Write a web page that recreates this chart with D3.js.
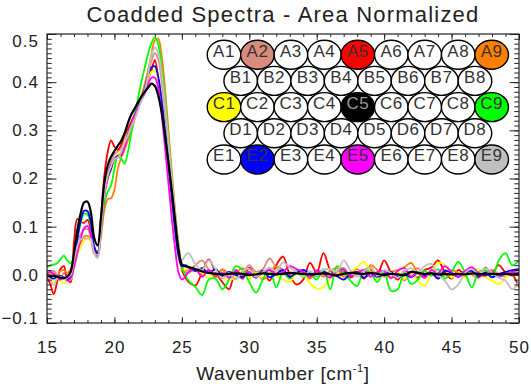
<!DOCTYPE html>
<html>
<head>
<meta charset="utf-8">
<script src="https://cdn.jsdelivr.net/npm/d3@7"></script>
<style>
  body { margin: 0; background: #fff; }
  svg { display: block; font-family: "Liberation Sans", Arial, Helvetica, sans-serif; }
</style>
</head>
<body>
<svg id="chart" width="531" height="386"></svg>
<script>
// wavenumber grid (cm-1): fine over the band, coarser over the flat part
const wavenumbers = [
  15, 15.25, 15.5, 15.75, 16, 16.25, 16.5, 16.75, 17, 17.25, 17.5, 17.75, 18, 18.25, 18.5, 18.75,
  19, 19.25, 19.5, 19.75, 20, 20.25, 20.5, 20.75, 21, 21.25, 21.5, 21.75, 22, 22.25, 22.5, 22.75,
  23, 23.25, 23.5, 23.75, 24, 24.25, 24.5, 24.75, 25, 25.25, 25.5,
  26, 26.5, 27, 27.5, 28, 28.5, 29, 29.5, 30, 30.5, 31, 31.5, 32, 32.5, 33, 33.5, 34, 34.5,
  35, 35.5, 36, 36.5, 37, 37.5, 38, 38.5, 39, 39.5, 40, 40.5, 41, 41.5, 42, 42.5, 43, 43.5,
  44, 44.5, 45, 45.5, 46, 46.5, 47, 47.5, 48, 48.5, 49, 49.5, 50
];

const specA2 = [
  -0.008, 0.002, 0.008, 0.000, -0.006, 0.004, -0.002, 0.008, 0.040, 0.069, 0.084, 0.094, 0.095, 0.079, 0.045, 0.040,
  0.099, 0.172, 0.211, 0.235, 0.250, 0.257, 0.262, 0.276, 0.294, 0.311, 0.333, 0.352, 0.370, 0.383, 0.411, 0.445,
  0.460, 0.448, 0.401, 0.338, 0.265, 0.187, 0.113, 0.050, 0.015, 0.008, 0.010,
  0.020, 0.030, 0.010, -0.004, 0.012, 0.002, -0.008, 0.004, 0.020, 0.006, 0.012, 0.034, 0.015, 0.004, -0.006, 0.008, 0.002, -0.006,
  0.010, 0.004, -0.004, 0.008, 0.014, -0.006, 0.002, 0.010, 0.016, -0.004, 0.006, -0.008, 0.004, -0.012, 0.006, 0.014, -0.004, 0.006,
  -0.004, 0.010, 0.004, -0.004, 0.008, 0.000, -0.006, 0.004, 0.010, 0.002, -0.004, 0.004, 0.002
];
const specA5 = [
  -0.005, -0.020, -0.040, -0.015, 0.012, 0.018, -0.010, -0.015, 0.069, 0.116, 0.110, 0.108, 0.114, 0.093, 0.054, 0.045,
  0.118, 0.206, 0.255, 0.279, 0.266, 0.260, 0.270, 0.289, 0.303, 0.318, 0.333, 0.352, 0.370, 0.386, 0.406, 0.425,
  0.446, 0.406, 0.352, 0.294, 0.230, 0.162, 0.093, 0.040, 0.010, -0.005, -0.015,
  -0.022, 0.005, 0.032, 0.005, -0.015, -0.030, 0.010, -0.008, 0.015, -0.005, 0.008, -0.012, 0.020, 0.038, 0.000, -0.020, -0.010, 0.025,
  0.005, 0.045, 0.010, -0.002, 0.008, -0.005, 0.004, -0.008, 0.010, 0.002, 0.030, 0.005, -0.010, 0.008, 0.002, -0.006, 0.010, 0.015,
  0.030, 0.005, -0.008, 0.010, 0.002, 0.012, -0.005, 0.015, 0.004, 0.020, 0.005, 0.000, -0.026
];
const specA9 = [
  0.005, 0.000, 0.003, -0.005, 0.008, 0.010, 0.004, 0.012, 0.030, 0.050, 0.067, 0.079, 0.081, 0.074, 0.048, 0.040,
  0.079, 0.133, 0.157, 0.159, 0.177, 0.220, 0.243, 0.260, 0.279, 0.298, 0.323, 0.347, 0.372, 0.396, 0.425, 0.459,
  0.487, 0.490, 0.455, 0.386, 0.303, 0.216, 0.133, 0.064, 0.020, 0.005, 0.004,
  0.012, 0.002, 0.008, -0.005, 0.010, -0.006, 0.004, 0.014, -0.002, 0.006, -0.010, 0.004, 0.018, 0.010, -0.004, 0.008, 0.002, -0.008,
  0.006, -0.004, 0.008, 0.014, -0.004, 0.004, 0.012, 0.000, 0.020, 0.010, -0.004, 0.006, 0.010, 0.016, 0.025, 0.004, -0.006, 0.008,
  0.002, -0.002, 0.010, 0.004, -0.004, 0.008, 0.002, -0.003, 0.006, 0.001, 0.004, -0.002, 0.003
];
const specC1 = [
  0.003, -0.008, -0.015, -0.008, -0.012, -0.018, -0.012, -0.010, 0.012, 0.040, 0.059, 0.071, 0.077, 0.069, 0.045, 0.040,
  0.094, 0.162, 0.196, 0.216, 0.235, 0.250, 0.257, 0.274, 0.294, 0.311, 0.328, 0.347, 0.364, 0.383, 0.409, 0.421,
  0.423, 0.406, 0.357, 0.294, 0.225, 0.157, 0.089, 0.035, 0.012, 0.010, 0.014,
  0.010, 0.004, -0.006, 0.008, -0.004, -0.012, -0.004, 0.006, -0.008, 0.004, -0.006, 0.006, -0.002, -0.010, -0.015, 0.004, 0.002, -0.018,
  -0.028, -0.026, -0.008, 0.004, -0.010, 0.006, 0.016, 0.027, 0.005, -0.010, 0.004, -0.004, 0.006, -0.008, 0.002, -0.012, -0.023, 0.005,
  0.025, 0.020, -0.006, 0.004, -0.006, 0.008, 0.012, -0.004, -0.012, -0.019, -0.006, 0.008, 0.004
];
const specC5 = [
  -0.002, -0.003, -0.002, -0.004, -0.006, -0.007, -0.004, 0.006, 0.045, 0.093, 0.128, 0.150, 0.152, 0.130, 0.077, 0.061,
  0.118, 0.191, 0.227, 0.245, 0.257, 0.268, 0.278, 0.294, 0.315, 0.333, 0.345, 0.358, 0.370, 0.380, 0.389, 0.397,
  0.392, 0.372, 0.338, 0.289, 0.235, 0.176, 0.113, 0.054, 0.022, 0.018, 0.016,
  0.012, 0.007, 0.004, 0.002, 0.001, 0.002, 0.003, 0.002, 0.000, 0.001, 0.003, 0.002, 0.001, 0.002, 0.004, 0.003, 0.002, 0.001,
  0.002, 0.003, 0.001, -0.001, 0.002, 0.004, 0.003, 0.002, 0.004, 0.002, 0.000, 0.002, 0.001, -0.001, 0.006, 0.004, 0.002, 0.003,
  0.001, 0.002, 0.001, 0.002, 0.001, 0.003, 0.002, 0.001, 0.002, 0.001, 0.002, 0.001, 0.002
];
const specC9 = [
  0.015, 0.020, 0.021, 0.024, 0.032, 0.040, 0.030, 0.024, 0.038, 0.074, 0.108, 0.127, 0.125, 0.103, 0.057, 0.048,
  0.089, 0.147, 0.172, 0.186, 0.220, 0.245, 0.241, 0.231, 0.255, 0.294, 0.333, 0.367, 0.401, 0.430, 0.459, 0.481,
  0.493, 0.479, 0.430, 0.362, 0.284, 0.201, 0.123, 0.060, 0.015, 0.000, -0.012,
  -0.025, -0.042, -0.010, -0.008, -0.030, -0.010, 0.018, 0.010, -0.015, -0.037, -0.010, 0.012, -0.026, 0.005, -0.008, 0.010, -0.005, 0.002,
  -0.010, 0.012, -0.030, 0.018, 0.005, -0.012, -0.023, 0.010, 0.004, -0.015, 0.008, -0.033, -0.030, 0.005, -0.019, -0.010, 0.008, -0.002,
  0.012, -0.008, 0.006, 0.027, 0.005, -0.026, 0.005, 0.010, -0.005, 0.030, 0.045, 0.020, 0.030
];
const specE2 = [
  0.002, -0.005, -0.008, -0.004, -0.002, -0.006, -0.010, -0.002, 0.030, 0.074, 0.113, 0.133, 0.132, 0.108, 0.059, 0.045,
  0.098, 0.167, 0.201, 0.220, 0.240, 0.247, 0.249, 0.269, 0.292, 0.311, 0.328, 0.347, 0.367, 0.386, 0.416, 0.431,
  0.433, 0.411, 0.362, 0.299, 0.230, 0.162, 0.093, 0.040, 0.018, 0.020, 0.016,
  0.008, 0.014, 0.004, 0.012, -0.002, 0.006, 0.000, -0.004, 0.005, -0.006, 0.008, -0.005, 0.002, 0.010, -0.004, 0.004, 0.010, 0.003,
  -0.002, 0.006, 0.001, -0.003, -0.010, 0.002, 0.006, -0.006, 0.003, -0.004, 0.002, 0.006, -0.004, 0.002, -0.005, 0.004, -0.002, 0.004,
  -0.008, 0.008, 0.004, -0.004, 0.005, 0.008, -0.002, 0.005, -0.005, 0.002, 0.006, 0.010, 0.012
];
const specE5 = [
  0.005, 0.006, 0.002, -0.006, -0.010, -0.005, -0.012, -0.008, 0.015, 0.045, 0.074, 0.097, 0.101, 0.084, 0.045, 0.038,
  0.094, 0.162, 0.201, 0.228, 0.240, 0.245, 0.250, 0.265, 0.289, 0.311, 0.331, 0.347, 0.362, 0.377, 0.396, 0.409,
  0.409, 0.387, 0.333, 0.265, 0.192, 0.118, 0.055, 0.005, -0.010, -0.004, 0.006,
  0.012, -0.004, 0.010, -0.002, 0.004, -0.006, 0.008, 0.000, 0.006, -0.004, 0.004, 0.010, 0.002, 0.006, 0.018, 0.012, 0.006, -0.004,
  0.008, 0.002, -0.006, 0.006, 0.012, -0.002, 0.004, 0.010, -0.004, 0.006, 0.008, -0.006, 0.008, 0.014, -0.004, 0.006, -0.006, 0.010,
  0.004, 0.018, 0.006, -0.004, 0.008, 0.016, 0.004, -0.002, 0.006, -0.004, 0.002, 0.006, 0.004
];
const specE9 = [
  -0.002, -0.010, -0.022, -0.008, -0.004, -0.010, -0.006, 0.000, 0.030, 0.059, 0.074, 0.075, 0.075, 0.074, 0.045, 0.035,
  0.094, 0.167, 0.206, 0.225, 0.240, 0.243, 0.255, 0.274, 0.289, 0.308, 0.323, 0.342, 0.362, 0.383, 0.416, 0.455,
  0.472, 0.460, 0.416, 0.352, 0.279, 0.201, 0.128, 0.064, 0.030, 0.040, 0.045,
  0.022, 0.010, 0.030, 0.012, -0.008, 0.004, -0.010, 0.008, 0.012, -0.004, 0.006, 0.015, 0.008, 0.026, 0.015, 0.006, -0.004, 0.008,
  -0.002, 0.010, 0.012, 0.006, 0.030, 0.010, -0.004, 0.008, 0.014, -0.002, 0.010, 0.004, -0.006, 0.008, 0.014, 0.004, 0.018, 0.023,
  0.000, -0.012, -0.030, -0.020, 0.004, 0.012, 0.002, 0.014, 0.004, -0.006, -0.012, -0.030, -0.015
];

// wells that have a spectrum, with their plot colour (drawing order, black on top)
const wellNames = ['A2', 'A5', 'A9', 'C1', 'C9', 'E2', 'E5', 'E9', 'C5'];
const wellColors = ['#d98b7e', '#ff0000', '#ff8000', '#ffff00', '#00ff00', '#0000ff', '#ff00ff', '#c0c0c0', '#000000'];
const wellSpectra = [specA2, specA5, specA9, specC1, specC9, specE2, specE5, specE9, specC5];

// plate layout shown in the legend
const plateRows = ['A', 'B', 'C', 'D', 'E'];
const plateCols = [9, 8, 9, 8, 9];

const xTicks = [15, 20, 25, 30, 35, 40, 45, 50];
const yTicks = [-0.1, 0.0, 0.1, 0.2, 0.3, 0.4, 0.5];

const margin = {top: 34, right: 12, bottom: 63, left: 47};
const W = 531, H = 386;
const width = W - margin.left - margin.right;
const height = H - margin.top - margin.bottom;
const ink = '#222';

const svg = d3.select('#chart');
const g = svg.append('g').attr('transform', `translate(${margin.left},${margin.top})`);

const x = d3.scaleLinear().domain([15, 50]).range([0, width]);
const y = d3.scaleLinear().domain([-0.1, 0.5]).range([height, 0]);

svg.append('defs').append('clipPath').attr('id', 'plotClip')
  .append('rect').attr('width', width).attr('height', height);

// spectra
const line = d3.line()
  .x((d, i) => x(wavenumbers[i]))
  .y(d => y(d))
  .curve(d3.curveCatmullRom.alpha(0.5));

g.append('g').attr('clip-path', 'url(#plotClip)')
  .selectAll('path')
  .data(wellSpectra)
  .enter().append('path')
  .attr('d', line)
  .attr('fill', 'none')
  .attr('stroke', (d, i) => wellColors[i])
  .attr('stroke-width', (d, i) => wellNames[i] === 'C5' ? 2.2 : 1.8)
  .attr('stroke-linejoin', 'round');

// axes, IDL style: ticks inside on all four sides
const xMinor = d3.range(15, 50.01, 1);
const yMinor = d3.range(-0.1, 0.5001, 0.01);

function tickAxis(axis, scale, major, minor, len, labels) {
  const sel = g.append('g');
  sel.append('g').call(axis(scale).tickValues(minor).tickSize(-len / 2).tickFormat(''));
  sel.append('g').call(axis(scale).tickValues(major).tickSize(-len)
    .tickFormat(labels ? labels : ''));
  sel.selectAll('.domain').remove();
  sel.selectAll('line').attr('stroke', ink).attr('stroke-width', 1);
  return sel;
}

const xLen = 0.02 * height, yLen = 0.02 * width;

const bottom = tickAxis(d3.axisBottom, x, xTicks, xMinor, xLen, d3.format('d'))
  .attr('transform', `translate(0,${height})`);
bottom.selectAll('.tick text')
  .attr('y', 18).attr('font-size', 17).attr('letter-spacing', 1).attr('fill', ink);
bottom.selectAll('g').attr('font-family', null);

tickAxis(d3.axisTop, x, xTicks, xMinor, xLen, null);

const left = tickAxis(d3.axisLeft, y, yTicks, yMinor, yLen, d3.format('.1f'));
left.selectAll('.tick text')
  .attr('x', -8).attr('font-size', 17).attr('letter-spacing', 1).attr('fill', ink)
  // end labels sit a little inside the frame, as in the original
  .attr('dy', d => d === 0.5 ? '0.75em' : d === -0.1 ? '0.05em' : '0.32em');
left.selectAll('g').attr('font-family', null);

tickAxis(d3.axisRight, y, yTicks, yMinor, yLen, null)
  .attr('transform', `translate(${width},0)`);

g.append('rect')
  .attr('width', width).attr('height', height)
  .attr('fill', 'none').attr('stroke', ink).attr('stroke-width', 1.2);

// titles
svg.append('text')
  .attr('x', margin.left + width / 2).attr('y', 22)
  .attr('text-anchor', 'middle').attr('font-size', 22).attr('letter-spacing', 1.2)
  .attr('fill', ink)
  .text('Coadded Spectra - Area Normalized');

const xTitle = svg.append('text')
  .attr('x', margin.left + width / 2).attr('y', 380)
  .attr('text-anchor', 'middle').attr('font-size', 19).attr('letter-spacing', 0.6)
  .attr('fill', ink);
xTitle.append('tspan').text('Wavenumber [cm');
xTitle.append('tspan').attr('font-size', 11).attr('dy', -8).text('-1');
xTitle.append('tspan').attr('dy', 8).text(']');

// plate legend
const cell = {x0: 224, dx: 33.46, y0: 54.7, dy: 26.2, rx: 16.8, ry: 14.5};
const wells = [];
plateRows.forEach((r, ri) => {
  for (let c = 0; c < plateCols[ri]; c++) {
    const name = r + (c + 1);
    const k = wellNames.indexOf(name);
    wells.push({
      name,
      cx: cell.x0 + c * cell.dx + (ri % 2 ? cell.dx / 2 : 0),
      cy: cell.y0 + ri * cell.dy,
      fill: k >= 0 ? wellColors[k] : '#fff'
    });
  }
});

const legend = svg.append('g');
legend.selectAll('ellipse')
  .data(wells)
  .enter().append('ellipse')
  .attr('cx', d => d.cx).attr('cy', d => d.cy)
  .attr('rx', cell.rx).attr('ry', cell.ry)
  .attr('fill', d => d.fill)
  .attr('stroke', '#000').attr('stroke-width', 1.4);

legend.selectAll('text')
  .data(wells)
  .enter().append('text')
  .attr('x', d => d.cx).attr('y', d => d.cy - 4)
  .attr('dy', '0.35em')
  .attr('text-anchor', 'middle')
  .attr('font-size', 17)
  .attr('letter-spacing', 0.5)
  .attr('fill', d => d.name === 'C5' ? '#9a9a9a' : '#333')
  .text(d => d.name);
</script>
</body>
</html>
